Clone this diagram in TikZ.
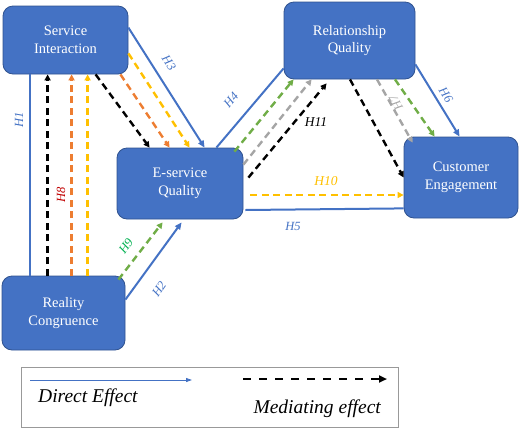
\documentclass[tikz,border=0pt]{standalone}
\usepackage{fontspec}
\setmainfont{Liberation Serif}
\usetikzlibrary{arrows.meta,calc}
\definecolor{boxblue}{HTML}{4472C4}
\definecolor{boxborder}{HTML}{2F528F}
\definecolor{lblue}{HTML}{4472C4}
\definecolor{lorange}{HTML}{ED7D31}
\definecolor{lyellow}{HTML}{FFC000}
\definecolor{lgreen}{HTML}{70AD47}
\definecolor{lgray}{HTML}{A5A5A5}
\definecolor{lred}{HTML}{C00000}
\definecolor{tgreen}{HTML}{00B050}
\tikzset{
  cbox/.style={draw=boxborder, fill=boxblue, rounded corners=10pt, text=white,
    font=\fontsize{14.5}{17.5}\selectfont, align=center, inner sep=0pt, line width=0.8pt},
  direct/.style={draw=lblue, line width=2pt},
  darrow/.style={direct, -{Triangle[length=7pt,width=6pt]}},
  medi/.style={line width=2.4pt, dash pattern=on 7pt off 4.5pt, -{Triangle[length=6pt,width=6pt]}},
  hlab/.style={font=\itshape\fontsize{12.5}{14}\selectfont, inner sep=0pt},
}
\begin{document}
\begin{tikzpicture}[x=1pt,y=-1pt]
\useasboundingbox (0,0) rectangle (520,429);
% boxes
\node[cbox, minimum width=125pt, minimum height=68pt] (SI) at (65.5,40) {Service\\Interaction};
\node[cbox, minimum width=126pt, minimum height=71pt] (ESQ) at (180,183.5) {E-service\\Quality};
\node[cbox, minimum width=131pt, minimum height=77pt] (RQ) at (349.5,40.5) {Relationship\\Quality};
\node[cbox, minimum width=114pt, minimum height=81pt] (CE) at (461,177.5) {Customer\\Engagement};
\node[cbox, minimum width=123pt, minimum height=74pt] (RC) at (63.5,313) {Reality\\Congruence};

% H1 and mediating paths RC -> SI
\draw[direct] ([xshift=28pt]RC.north west) -- ([xshift=27pt]SI.south west);
\draw[medi, black] ([xshift=46pt]RC.north west) -- ([xshift=45pt]SI.south west);
\draw[medi, lorange] ([xshift=70pt]RC.north west) -- ([xshift=69pt]SI.south west);
\draw[medi, lyellow] ([xshift=86pt]RC.north west) -- ([xshift=85pt]SI.south west);
\node[hlab, text=lblue, rotate=90] (h1) at (19,120) {H1};
\node[hlab, text=lred, rotate=90] (h8) at (61,195) {H8};

% SI -> ESQ
\draw[medi, black] ([xshift=93pt]SI.south west) -- ([xshift=33pt]ESQ.north west);
\draw[medi, lorange] ([xshift=-8pt]SI.south east) -- ([xshift=53pt]ESQ.north west);
\draw[medi, lyellow] ([yshift=21pt]SI.south east) -- ([xshift=73pt]ESQ.north west);
\draw[darrow] ([yshift=-22pt]SI.north east) -- ([xshift=88pt]ESQ.north west);
\node[hlab, text=lblue, rotate=-57] (h3) at (169,63) {H3};

% ESQ -> RQ
\draw[direct] ([xshift=-27pt]ESQ.north east) -- ([yshift=11pt]RQ.south west);
\node[hlab, text=lblue, rotate=50] (h4) at (231,100) {H4};
\draw[medi, lgreen] ([xshift=-9pt,yshift=-4pt]ESQ.north east) -- ([xshift=10pt]RQ.south west);
\draw[medi, lgray] ([yshift=-17pt]ESQ.north east) -- ([xshift=28pt]RQ.south west);
\draw[medi, black] ([xshift=5pt,yshift=-30pt]ESQ.north east) -- ([xshift=43pt,yshift=-4pt]RQ.south west);
\node[hlab, text=black, font=\itshape\fontsize{13.5}{15}\selectfont] (h11) at (316,122) {H11};

% RQ -> CE
\draw[medi, black] ([xshift=0.5pt]RQ.south) -- (CE.west);
\draw[medi, lgray] ([xshift=27.5pt]RQ.south) -- ([xshift=9pt,yshift=-6pt]CE.north west);
\draw[medi, lgreen] ([xshift=45.5pt]RQ.south) -- ([xshift=31pt]CE.north west);
\draw[darrow] ([yshift=15pt]RQ.south east) -- ([xshift=56pt]CE.north west);
\node[hlab, text=lblue, rotate=-58] (h6) at (446,95) {H6};
\node[hlab, text=lgray, rotate=120] (h7) at (396,103) {H7};

% ESQ -> CE
\draw[medi, lyellow] ([xshift=7pt,yshift=-11.5pt]ESQ.east) -- ([yshift=-17.5pt]CE.west);
\node[hlab, text=lyellow, font=\itshape\fontsize{13.5}{15}\selectfont] (h10) at (326,181) {H10};
\draw[direct] ([xshift=2pt,yshift=-26.5pt]ESQ.east) -- ([yshift=10pt]CE.south west);
\node[hlab, text=lblue] (h5) at (293,226) {H5};

% RC -> ESQ
\draw[darrow] ([yshift=-24pt]RC.north east) -- ([xshift=65pt,yshift=-3pt]ESQ.south west);
\node[hlab, text=lblue, rotate=55] (h2) at (159,289) {H2};
\draw[medi, lgreen] ([xshift=-7pt,yshift=-4pt]RC.north east) -- ([xshift=46pt,yshift=-3pt]ESQ.south west);
\node[hlab, text=tgreen, rotate=55] (h9) at (126,246) {H9};

% legend
\node[draw=gray!80, line width=0.8pt, minimum width=377pt, minimum height=60pt, inner sep=0pt] (leg) at (209.5,397) {};
\coordinate (da) at (30,380);
\coordinate (db) at (192,380);
\coordinate (ma) at (243,379);
\coordinate (mb) at (387,379);
\draw[draw=lblue, line width=0.9pt, -{Triangle[length=6pt,width=4pt]}] (da) -- (db);
\draw[line width=2.4pt, dash pattern=on 8pt off 8pt, -{Triangle[length=8pt,width=7pt]}] (ma) -- (mb);
\node[font=\itshape\fontsize{19.5}{22}\selectfont, anchor=base west, inner sep=0pt] (dtext) at (38,402) {Direct Effect};
\node[font=\itshape\fontsize{19.5}{22}\selectfont, anchor=base east, inner sep=0pt] (mtext) at (381,413) {Mediating effect};
\end{tikzpicture}
\end{document}
